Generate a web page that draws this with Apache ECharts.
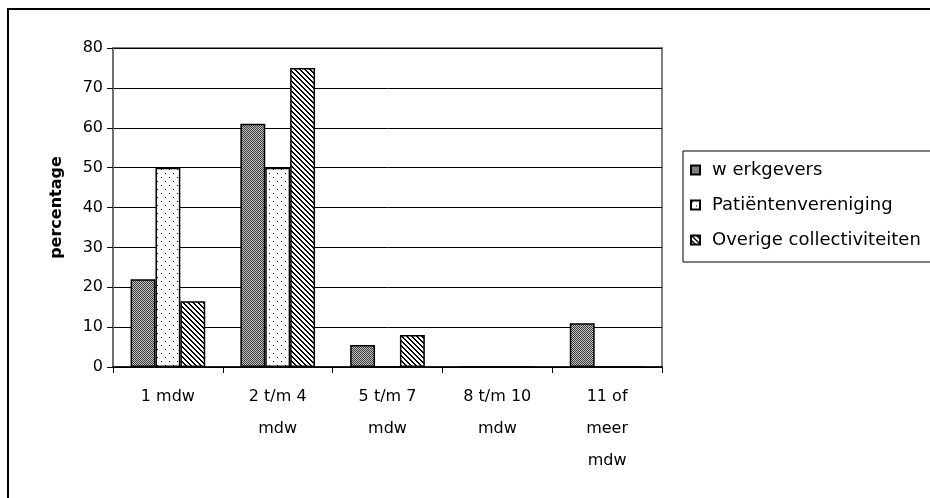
<!DOCTYPE html>
<html><head><meta charset="utf-8">
<script src="https://cdn.jsdelivr.net/npm/echarts@6/dist/echarts.min.js"></script>
<style>html,body{margin:0;padding:0;background:#fff}#c{width:930px;height:498px}</style>
</head><body><div id="c"></div>
<script>
const categories = ['1 mdw', '2 t/m 4\nmdw', '5 t/m 7\nmdw', '8 t/m 10\nmdw', '11 of\nmeer\nmdw'];
const seriesNames = ['w erkgevers', 'Patiëntenvereniging', 'Overige collectiviteiten'];
const werkgevers = [22, 61, 5.5, 0, 11];
const patienten = [50, 50, 0, 0, 0];
const overige = [16.5, 75, 8, 0, 0];
const yTicks = [0, 80, 10];

function makePattern(size, fn) {
  const c = document.createElement('canvas');
  c.width = size; c.height = size;
  const ctx = c.getContext('2d');
  ctx.fillStyle = '#fff'; ctx.fillRect(0, 0, size, size);
  for (let y = 0; y < size; y++) for (let x = 0; x < size; x++) {
    const col = fn(x, y);
    if (col) { ctx.fillStyle = col; ctx.fillRect(x, y, 1, 1); }
  }
  return { image: c, repeat: 'repeat' };
}
const patChecker = makePattern(2, (x, y) => ((x + y) % 2 === 0 ? '#3a3a3a' : '#c4c4c4'));
const patDots = makePattern(8, (x, y) => ((x === 1 && y === 1) || (x === 5 && y === 5) ? '#000' : null));
const patDiag = makePattern(5, (x, y) => { const d = ((x - y) % 5 + 5) % 5; return (d === 0 || d === 1) ? '#000' : null; });

const FONT = 'DejaVu Sans';
const chart = echarts.init(document.getElementById('c'), null, { renderer: 'canvas' });
const barStyle = (pat) => ({ color: pat, borderColor: '#000', borderWidth: 1.5 });
chart.setOption({
  animation: false,
  backgroundColor: '#fff',
  graphic: [{ type: 'rect', shape: { x: 8, y: 9, width: 1000, height: 600 }, style: { fill: 'none', stroke: '#000', lineWidth: 2 }, z: 100 }],
  grid: { left: 113, right: 268, top: 48, bottom: 131, show: true, borderColor: '#808080', borderWidth: 2, backgroundColor: '#fff' },
  legend: {
    orient: 'vertical', left: 683, top: 151,
    padding: [9, 60, 12, 7], itemGap: 15, itemWidth: 9, itemHeight: 9,
    backgroundColor: '#fff', borderColor: '#000', borderWidth: 1,
    icon: 'rect',
    textStyle: { fontFamily: FONT, fontSize: 18, color: '#000', lineHeight: 20, padding: [0, 0, 0, 7] },
    data: seriesNames
  },
  xAxis: {
    type: 'category', data: categories,
    axisLine: { lineStyle: { color: '#000', width: 1.5 } },
    axisTick: { show: true, length: 6, lineStyle: { color: '#000' } },
    axisLabel: { fontFamily: FONT, fontSize: 16, color: '#000', lineHeight: 32, margin: 14, interval: 0 }
  },
  yAxis: {
    type: 'value', min: yTicks[0], max: yTicks[1], interval: yTicks[2],
    name: 'percentage', nameLocation: 'middle', nameGap: 48, nameRotate: 90,
    nameTextStyle: { fontFamily: FONT, fontSize: 16, fontWeight: 'bold', color: '#000' },
    axisLine: { show: true, lineStyle: { color: '#707070', width: 2 } },
    axisTick: { show: true, length: 6, lineStyle: { color: '#000' } },
    axisLabel: { fontFamily: FONT, fontSize: 16, color: '#000', margin: 10 },
    splitLine: { lineStyle: { color: '#000', width: 1 } }
  },
  series: [
    { name: seriesNames[0], type: 'bar', data: werkgevers, barGap: '0%', barCategoryGap: '32%', itemStyle: barStyle(patChecker) },
    { name: seriesNames[1], type: 'bar', data: patienten, itemStyle: barStyle(patDots) },
    { name: seriesNames[2], type: 'bar', data: overige, itemStyle: barStyle(patDiag) }
  ]
});
</script></body></html>
